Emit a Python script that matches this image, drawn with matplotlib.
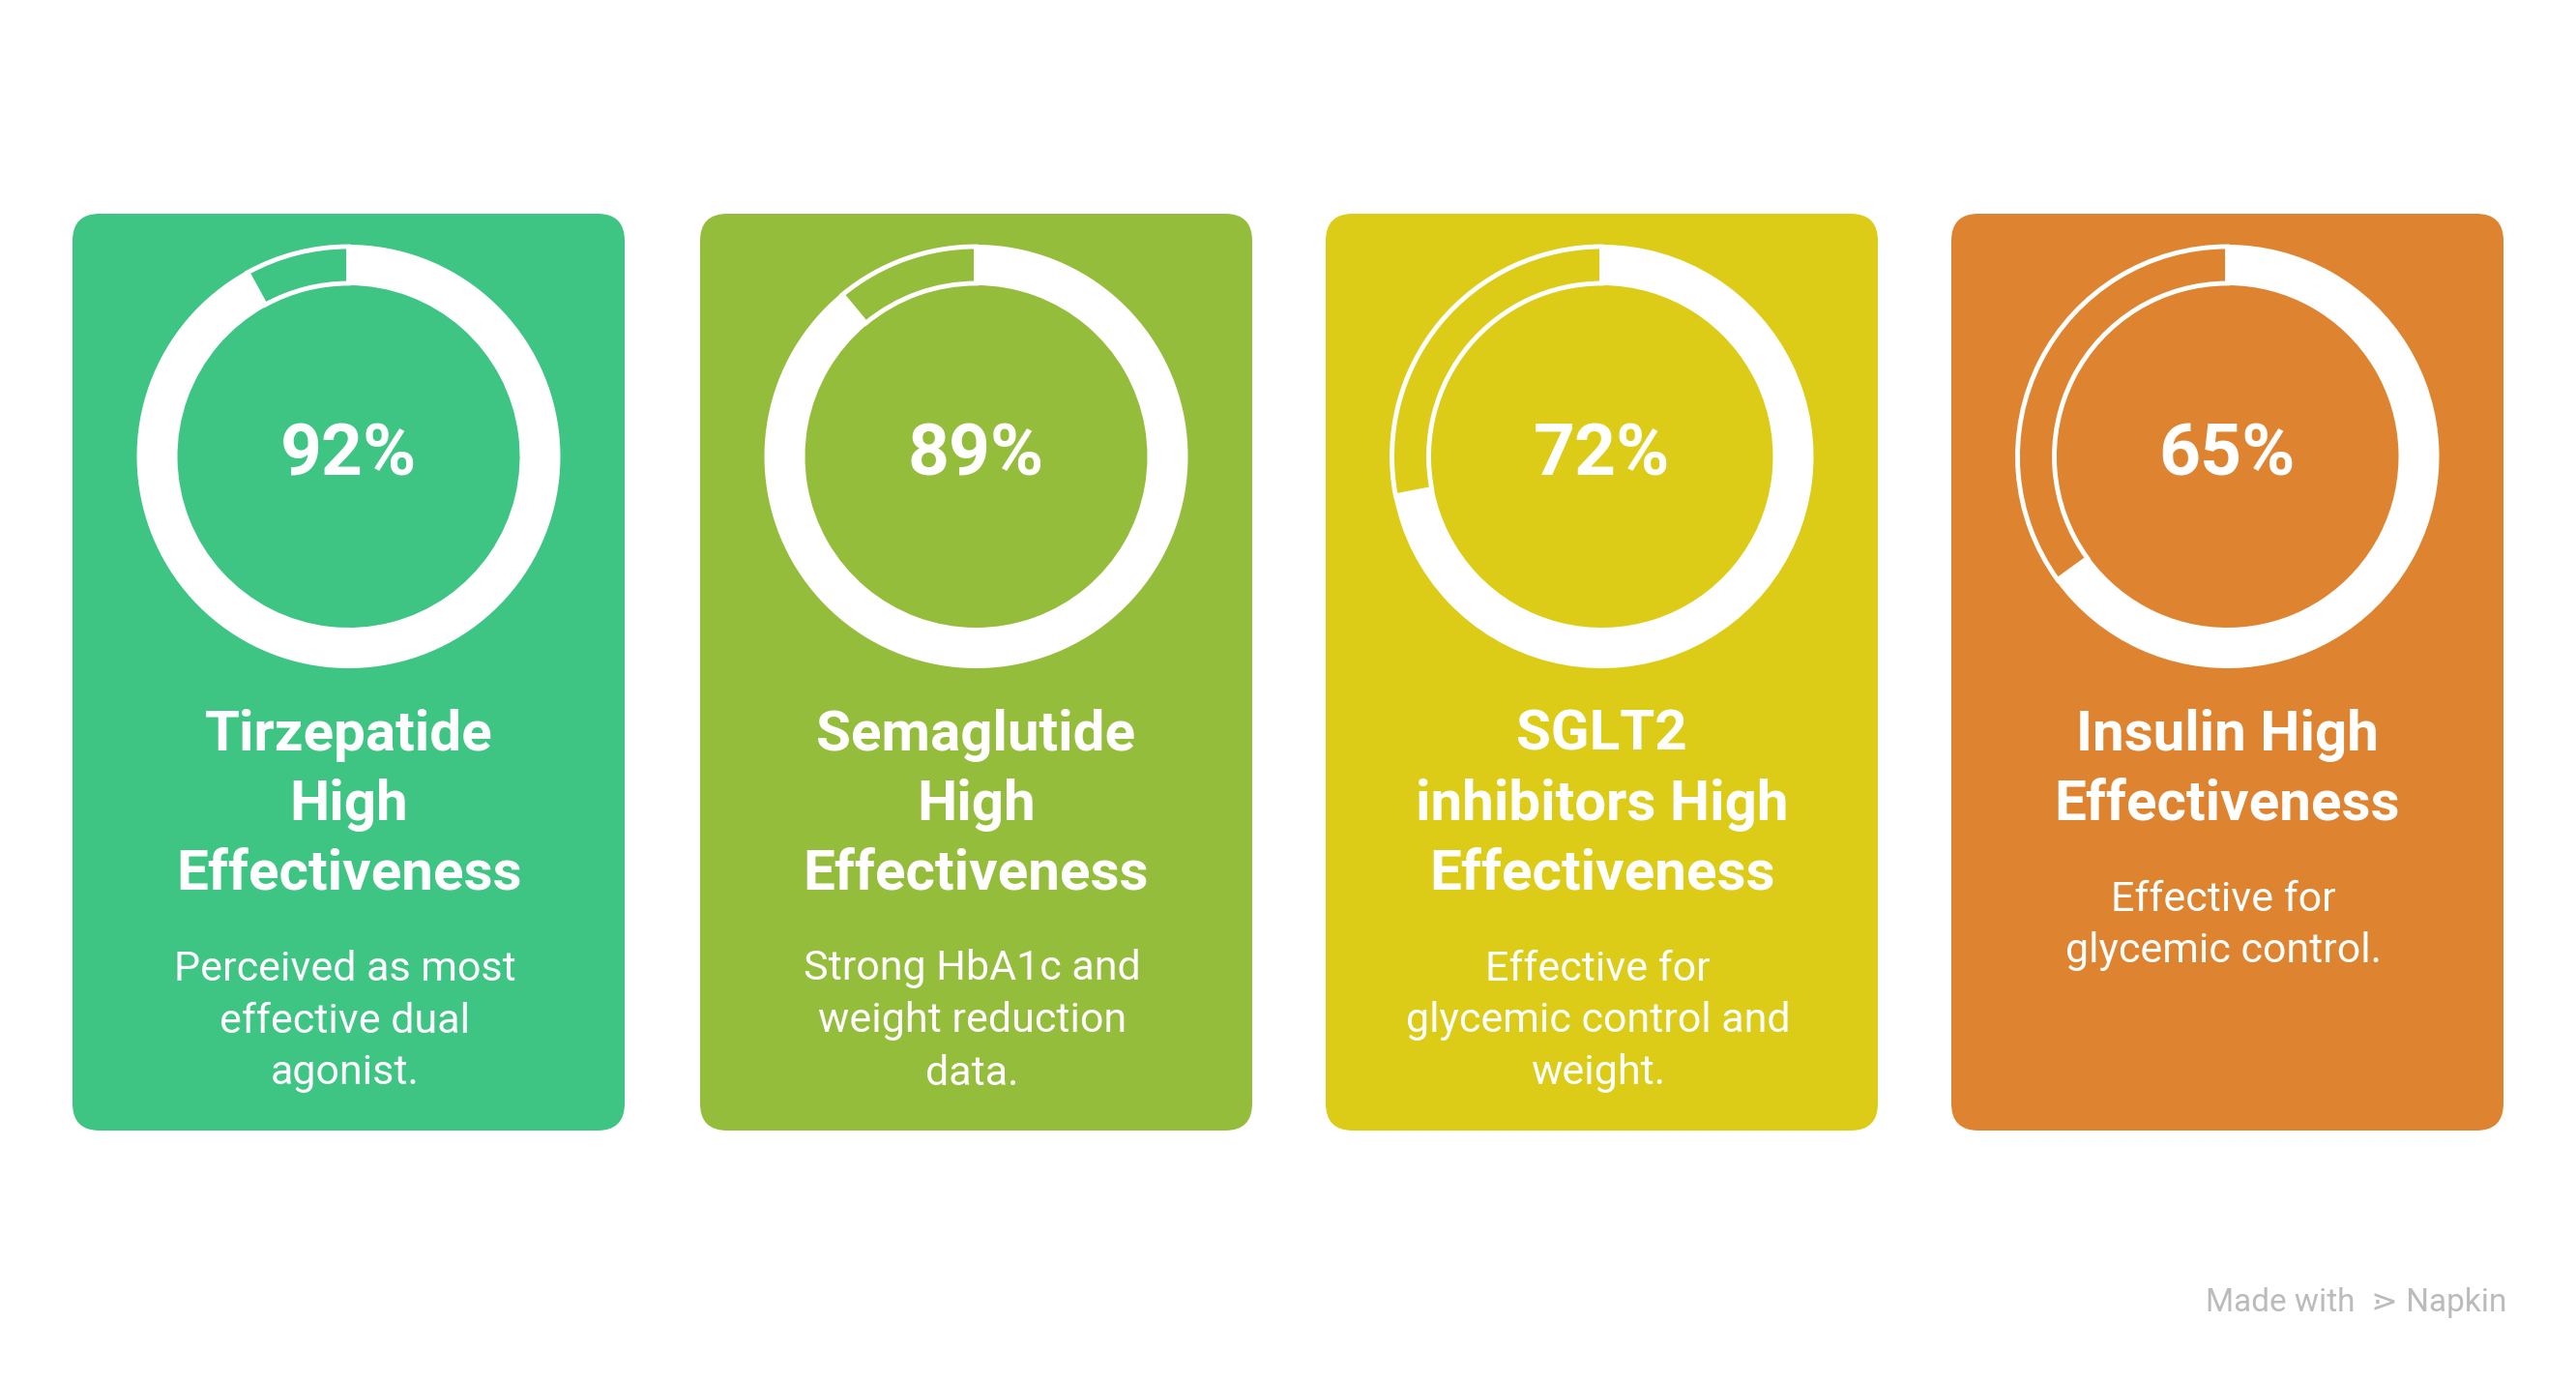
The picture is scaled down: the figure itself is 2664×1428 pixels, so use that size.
import matplotlib
matplotlib.use("Agg")
import matplotlib.pyplot as plt
from matplotlib.patches import FancyBboxPatch, Wedge

names = ["Tirzepatide\nHigh\nEffectiveness", "Semaglutide\nHigh\nEffectiveness",
         "SGLT2\ninhibitors High\nEffectiveness", "Insulin High\nEffectiveness"]
descs = ["Perceived as most\neffective dual\nagonist.", "Strong HbA1c and\nweight reduction\ndata.",
         "Effective for\nglycemic control and\nweight.", "Effective for\nglycemic control."]
values = [92, 89, 72, 65]
colors = ["#3EC483", "#95BD3C", "#DDCC17", "#DE8431"]

W, H = 2664, 1428
fig = plt.figure(figsize=(W/100, H/100), dpi=100)
ax = fig.add_axes([0, 0, 1, 1])
ax.set_xlim(0, W); ax.set_ylim(H, 0); ax.axis("off")
ax.set_aspect("equal")

FONT = "Roboto"
card_w, card_h, top = 571, 948, 221
lefts = [75, 724, 1371, 2018]
R_out, R_in = 219, 177
for i, (nm, ds, v, c) in enumerate(zip(names, descs, values, colors)):
    x0 = lefts[i]
    ax.add_patch(FancyBboxPatch((x0, top), card_w, card_h,
                 boxstyle="round,pad=0,rounding_size=28", fc=c, ec="none"))
    cx, cy = x0 + card_w/2, 472
    # y-axis inverted: angles measured with flipped y; clockwise from top visually
    # In inverted axes, top is angle 270 (since y down). Clockwise visual = increasing angle.
    start = 270
    end = 270 + 360*v/100
    ax.add_patch(Wedge((cx, cy), R_out, start, end, width=R_out-R_in, fc="white", ec="none"))
    ax.add_patch(Wedge((cx, cy), R_out-2, end, start+360, width=R_out-R_in-4,
                       fc="none", ec="white", lw=3.5))
    ax.text(cx, cy, f"{v}%", color="white", fontsize=54, fontweight="bold",
            family=FONT, ha="center", va="center")
    nlines = nm.count("\n") + 1
    for j, line in enumerate(nm.split("\n")):
        ax.text(cx, 760 + 72*j, line, color="white", fontsize=42, fontweight="bold",
                family=FONT, ha="center", va="center")
    y0 = 760 + 72*(nlines-1) + 98
    for j, line in enumerate(ds.split("\n")):
        ax.text(cx - 4, y0 + 54*j, line, color="white", fontsize=31,
                family=FONT, ha="center", va="center")

ax.text(2592, 1347, "Made with  ⋗ Napkin", color="#BBBBBB", fontsize=24,
        family=["Roboto", "DejaVu Sans"], ha="right", va="center")
fig.savefig("out.png", dpi=100, facecolor="white")
